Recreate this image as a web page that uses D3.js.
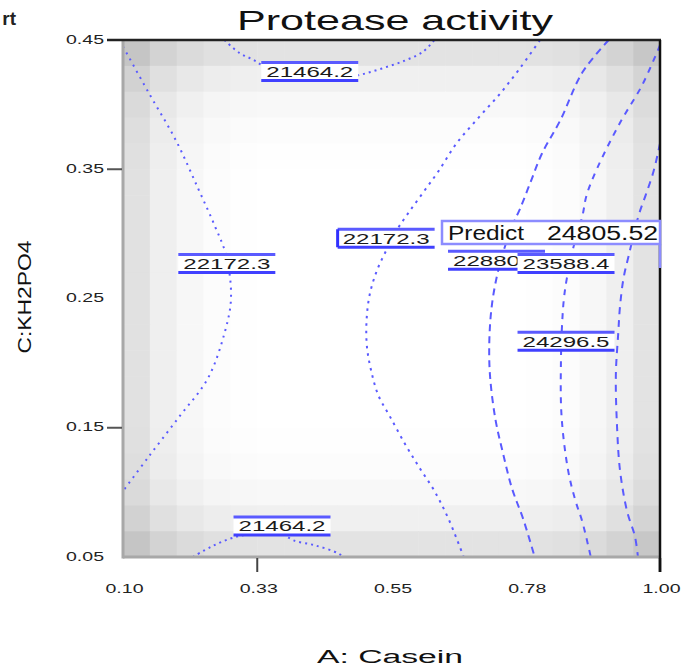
<!DOCTYPE html>
<html>
<head>
<meta charset="utf-8">
<script src="https://cdn.jsdelivr.net/npm/d3@7"></script>
<style>
  html, body { margin: 0; padding: 0; background: #fff; }
  svg text { font-family: "Liberation Sans", Arial, sans-serif; }
</style>
</head>
<body>
<svg id="chart" width="683" height="669"></svg>
<script>
// Contour levels of the fitted response (protease activity)
const levels = [21464.2, 22172.3, 22880.3, 23588.4, 24296.5];

// Contour traces as [A: Casein, C: KH2PO4] pairs
const arcTop21464 = [[0.270,0.450],[0.295,0.440],[0.317,0.435],[0.335,0.430],[0.372,0.422],[0.413,0.419],[0.464,0.420],[0.497,0.423],[0.534,0.428],[0.572,0.434],[0.603,0.441],[0.622,0.450]];
const arcBottom21464 = [[0.217,0.050],[0.248,0.058],[0.285,0.065],[0.330,0.069],[0.363,0.069],[0.385,0.063],[0.422,0.059],[0.460,0.053],[0.469,0.050]];
const left22172 = [[0.100,0.445],[0.142,0.410],[0.189,0.372],[0.226,0.335],[0.254,0.306],[0.273,0.283],[0.281,0.250],[0.270,0.223],[0.242,0.188],[0.195,0.159],[0.142,0.127],[0.100,0.101]];
const center22172 = [[0.799,0.450],[0.765,0.428],[0.731,0.408],[0.696,0.390],[0.659,0.370],[0.628,0.348],[0.603,0.332],[0.578,0.316],[0.559,0.303],[0.541,0.287],[0.525,0.271],[0.513,0.252],[0.508,0.231],[0.509,0.212],[0.516,0.194],[0.528,0.175],[0.547,0.159],[0.572,0.138],[0.597,0.119],[0.622,0.101],[0.646,0.079],[0.671,0.050]];
const curve22880 = [[0.914,0.450],[0.870,0.425],[0.833,0.388],[0.802,0.362],[0.783,0.340],[0.765,0.319],[0.752,0.306],[0.738,0.287],[0.727,0.268],[0.718,0.244],[0.714,0.218],[0.715,0.191],[0.724,0.157],[0.737,0.130],[0.752,0.103],[0.771,0.079],[0.790,0.050]];
const curve23588 = [[1.000,0.446],[0.970,0.415],[0.933,0.386],[0.895,0.351],[0.877,0.330],[0.870,0.314],[0.854,0.288],[0.844,0.266],[0.839,0.250],[0.836,0.231],[0.834,0.202],[0.835,0.159],[0.846,0.117],[0.858,0.094],[0.870,0.077],[0.884,0.050]];
const curve24296 = [[1.000,0.370],[0.989,0.348],[0.976,0.330],[0.964,0.314],[0.948,0.284],[0.939,0.266],[0.933,0.244],[0.930,0.223],[0.926,0.191],[0.928,0.151],[0.933,0.117],[0.945,0.085],[0.958,0.066],[0.963,0.050]];

// Contour value tags: level and [A, C] location of the tag centre
const tagLevels = [21464.2, 22172.3, 22172.3, 22880.3, 23588.4, 24296.5, 21464.2];
const tagSpots = [[0.413,0.4256],[0.274,0.277],[0.541,0.2966],[0.726,0.2796],[0.8425,0.277],[0.8425,0.217],[0.3665,0.074]];

// Prediction flag
const predictPoint = [1.00, 0.2736];
const predictValue = 24805.52;

// Axis ticks
const xTicks = [0.10, 0.325, 0.55, 0.775, 1.00];
const xTickLabels = ["0.10", "0.33", "0.55", "0.78", "1.00"];
const yTicks = [0.05, 0.15, 0.25, 0.35, 0.45];
const yTickLabels = ["0.05", "0.15", "0.25", "0.35", "0.45"];
const xMarked = [0.325, 1.00];
const yMarked = [0.15, 0.35, 0.45];

// Grey shading of the design space (darkening per column / per row, 20 x 20 cells)
const colShade = [30,16,8,3,1,0,0,0,0,0,0,0,0,0,0,1,3,8,16,28];
const rowShade = [28,15,7,3,1,0,0,0,0,0,0,0,0,0,0,1,3,7,15,28];

const svg = d3.select("#chart");
const plot = { left: 123, right: 660, top: 40, bottom: 557 };

const x = d3.scaleLinear().domain([0.10, 1.00]).range([plot.left, plot.right]);
const y = d3.scaleLinear().domain([0.05, 0.45]).range([plot.bottom, plot.top]);

const colBand = d3.scaleBand().domain(d3.range(colShade.length)).range([plot.left, plot.right]);
const rowBand = d3.scaleBand().domain(d3.range(rowShade.length)).range([plot.top, plot.bottom]);

// shaded cells
const cells = [];
rowShade.forEach((rs, r) => colShade.forEach((cs, c) => cells.push({ r, c, g: 255 - rs - cs })));
svg.append("g").selectAll("rect").data(cells).join("rect")
  .attr("x", d => colBand(d.c))
  .attr("y", d => rowBand(d.r))
  .attr("width", colBand.bandwidth() + 0.5)
  .attr("height", rowBand.bandwidth() + 0.5)
  .attr("fill", d => d3.rgb(d.g, d.g, d.g));

// contour lines
const contours = [
  { pts: arcTop21464, dash: "2,4" },
  { pts: arcBottom21464, dash: "2,4" },
  { pts: left22172, dash: "2,5" },
  { pts: center22172, dash: "2.5,5" },
  { pts: curve22880, dash: "7,5" },
  { pts: curve23588, dash: "6,6" },
  { pts: curve24296, dash: "7,6" }
];
const line = d3.line().x(d => x(d[0])).y(d => y(d[1])).curve(d3.curveCatmullRom.alpha(0.5));
svg.append("g").selectAll("path").data(contours).join("path")
  .attr("d", d => line(d.pts))
  .attr("fill", "none")
  .attr("stroke", "#5a5aff")
  .attr("stroke-width", 2)
  .attr("stroke-dasharray", d => d.dash);

// frame
svg.append("line").attr("x1", plot.left).attr("x2", plot.left).attr("y1", plot.top).attr("y2", plot.bottom + 1.5)
  .attr("stroke", "#a8a8a8").attr("stroke-width", 3);
svg.append("line").attr("x1", plot.left).attr("x2", plot.right).attr("y1", plot.bottom).attr("y2", plot.bottom)
  .attr("stroke", "#a8a8a8").attr("stroke-width", 3);
svg.append("line").attr("x1", 107).attr("x2", plot.right + 1).attr("y1", plot.top).attr("y2", plot.top)
  .attr("stroke", "#222").attr("stroke-width", 2.5);
svg.append("line").attr("x1", plot.right).attr("x2", plot.right).attr("y1", plot.top).attr("y2", plot.bottom + 15)
  .attr("stroke", "#111").attr("stroke-width", 2.5);

// tick marks
svg.append("g").selectAll("line").data(yMarked).join("line")
  .attr("x1", 107).attr("x2", plot.left - 1)
  .attr("y1", d => y(d)).attr("y2", d => y(d))
  .attr("stroke", d => d === 0.45 ? "#222" : "#555").attr("stroke-width", 2);
svg.append("g").selectAll("line").data(xMarked).join("line")
  .attr("x1", d => x(d)).attr("x2", d => x(d))
  .attr("y1", plot.bottom + 1).attr("y2", plot.bottom + 15)
  .attr("stroke", d => d === 1.00 ? "#111" : "#444").attr("stroke-width", d => d === 1.00 ? 2.5 : 2);

// axes (labels only)
const yAxis = d3.axisLeft(y).tickValues(yTicks).tickSize(0).tickPadding(0)
  .tickFormat((d, i) => yTickLabels[i]);
const gy = svg.append("g").attr("transform", "translate(104,0)").call(yAxis);
gy.select(".domain").remove();
gy.selectAll("text").attr("font-size", 12).attr("fill", "#222")
  .attr("font-family", "Liberation Sans, Arial, sans-serif")
  .attr("textLength", 38).attr("lengthAdjust", "spacingAndGlyphs").attr("dy", "0.25em");

const xAxis = d3.axisBottom(x).tickValues(xTicks).tickSize(0).tickPadding(0)
  .tickFormat((d, i) => xTickLabels[i]);
const gx = svg.append("g").attr("transform", "translate(1,584)").call(xAxis);
gx.select(".domain").remove();
gx.selectAll("text").attr("font-size", 12).attr("fill", "#222")
  .attr("font-family", "Liberation Sans, Arial, sans-serif")
  .attr("textLength", 38).attr("lengthAdjust", "spacingAndGlyphs");

// contour value tags
const tagW = 97, tagH = 18;
const tags = tagLevels.map((v, i) => ({ v, a: tagSpots[i][0], c: tagSpots[i][1] }));
const tg = svg.append("g").selectAll("g").data(tags).join("g")
  .attr("transform", d => `translate(${x(d.a) - tagW / 2},${y(d.c) - tagH / 2})`);
tg.append("rect").attr("width", tagW).attr("height", tagH).attr("fill", "#fff");
tg.append("line").attr("x1", 0).attr("x2", tagW).attr("y1", 0).attr("y2", 0)
  .attr("stroke", "#5a5aff").attr("stroke-width", 3);
tg.append("line").attr("x1", 0).attr("x2", tagW).attr("y1", tagH).attr("y2", tagH)
  .attr("stroke", "#4040ff").attr("stroke-width", 3);
tg.filter((d, i) => i === 2).append("line")
  .attr("x1", 0).attr("x2", 0).attr("y1", 0).attr("y2", tagH)
  .attr("stroke", "#3030ff").attr("stroke-width", 3);
tg.append("text").attr("x", 5).attr("y", tagH / 2 + 5.5)
  .attr("font-size", 15).attr("fill", "#1a1a1a")
  .attr("textLength", tagW - 10).attr("lengthAdjust", "spacingAndGlyphs")
  .text(d => d.v.toFixed(1));

// prediction flag
const px = x(predictPoint[0]), py = y(predictPoint[1]);
const boxW = 218, boxH = 23, poleH = 24;
svg.append("line").attr("x1", px).attr("x2", px).attr("y1", py).attr("y2", py - poleH)
  .attr("stroke", "#8c8cff").attr("stroke-width", 2.5);
const fg = svg.append("g").attr("transform", `translate(${px - boxW},${py - poleH - boxH})`);
fg.append("rect").attr("width", boxW).attr("height", boxH)
  .attr("fill", "#fff").attr("stroke", "#8c8cff").attr("stroke-width", 2.5);
fg.append("text").attr("x", 6).attr("y", 19.5).attr("font-size", 20).attr("fill", "#111")
  .attr("textLength", 76).attr("lengthAdjust", "spacingAndGlyphs").text("Predict");
fg.append("text").attr("x", 105).attr("y", 19.5).attr("font-size", 20).attr("fill", "#111")
  .attr("textLength", 111).attr("lengthAdjust", "spacingAndGlyphs").text(predictValue.toFixed(2));

// titles
svg.append("text").attr("x", 395).attr("y", 30).attr("text-anchor", "middle")
  .attr("font-size", 28).attr("fill", "#111")
  .attr("textLength", 316).attr("lengthAdjust", "spacingAndGlyphs").text("Protease activity");
svg.append("text").attr("x", 390).attr("y", 663).attr("text-anchor", "middle")
  .attr("font-size", 18).attr("fill", "#111")
  .attr("textLength", 146).attr("lengthAdjust", "spacingAndGlyphs").text("A: Casein");
svg.append("text").attr("transform", "translate(31,297) rotate(-90)").attr("text-anchor", "middle")
  .attr("font-size", 18).attr("fill", "#111")
  .attr("textLength", 113).attr("lengthAdjust", "spacingAndGlyphs").text("C:KH2PO4");
svg.append("text").attr("x", 16).attr("y", 25).attr("text-anchor", "end")
  .attr("font-size", 19).attr("font-weight", "bold").attr("fill", "#222").text("rt");
</script>
</body>
</html>
